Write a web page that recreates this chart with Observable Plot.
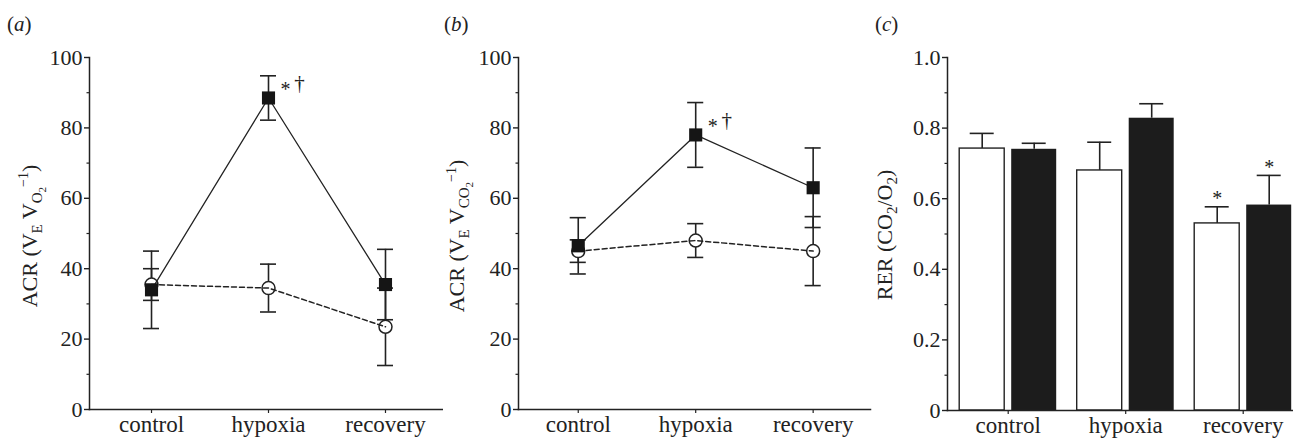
<!DOCTYPE html>
<html>
<head>
<meta charset="utf-8">
<script src="https://cdn.jsdelivr.net/npm/d3@7"></script>
<script src="https://cdn.jsdelivr.net/npm/@observablehq/plot@0.6"></script>
<style>
  html, body { margin: 0; padding: 0; background: white; }
  #row { display: flex; width: 1293px; height: 441px; overflow: hidden; }
  #row svg { display: block; flex: none; }
</style>
</head>
<body>
<div id="row"></div>
<script>
// ---------- data ----------
const categories = ["control", "hypoxia", "recovery"];

// (a) ACR (VE VO2^-1)
const acrO2Filled   = [34, 88.5, 35.5];
const acrO2FilledSE = [11, 6.3, 10];
const acrO2Open     = [35.5, 34.5, 23.5];
const acrO2OpenSE   = [4.5, 6.8, 11];
const acrO2Star     = ["", "*", ""];
const acrO2Dagger   = ["", "†", ""];

// (b) ACR (VE VCO2^-1)
const acrCO2Filled   = [46.5, 78, 63];
const acrCO2FilledSE = [8, 9.2, 11.3];
const acrCO2Open     = [45, 48, 45];
const acrCO2OpenSE   = [3.2, 4.8, 9.8];
const acrCO2Star     = ["", "*", ""];
const acrCO2Dagger   = ["", "†", ""];

// (c) RER (CO2/O2)
const rerOpen     = [0.742, 0.68, 0.53];
const rerOpenSE   = [0.043, 0.08, 0.047];
const rerFilled   = [0.74, 0.828, 0.582];
const rerFilledSE = [0.017, 0.041, 0.084];
const rerOpenStar   = ["", "", "*"];
const rerFilledStar = ["", "", "*"];

// tick values
const acrTicks = [0, 20, 40, 60, 80, 100];
const acrMinor = [10, 30, 50, 70, 90];
const rerTicks = [0, 0.2, 0.4, 0.6, 0.8, 1.0];
const rerMinor = [0.1, 0.3, 0.5, 0.7, 0.9];

// ---------- helpers ----------
const INK = "#222";
const FONT = "'Liberation Serif','Times New Roman',serif";
const YFS = 22, XFS = 23;
const rows = (vals, errs, star, dag) => categories.map((c, i) => ({
  cat: c, v: vals[i], lo: vals[i] - errs[i], hi: vals[i] + errs[i],
  star: star ? star[i] : "", dag: dag ? dag[i] : ""
}));

function addTitle(svg, x, y, parts) {
  const t = d3.select(svg).append("text")
    .attr("transform", `translate(${x},${y}) rotate(-90)`)
    .attr("text-anchor", "middle")
    .attr("fill", INK)
    .attr("font-family", FONT)
    .style("white-space", "pre");
  let prev = 0;
  for (const [txt, shift, size] of parts) {
    t.append("tspan").attr("dy", shift - prev).attr("font-size", size).text(txt);
    prev = shift;
  }
}
function addPanelLabel(svg, x, y, letter) {
  const t = d3.select(svg).append("text")
    .attr("x", x).attr("y", y).attr("fill", INK)
    .attr("text-anchor", "start")
    .attr("font-family", FONT).attr("font-size", 21);
  t.append("tspan").text("(");
  t.append("tspan").attr("font-style", "italic").text(letter);
  t.append("tspan").text(")");
}

const baseStyle = {fontFamily: FONT, fontSize: "22px", color: INK, background: "white"};

function linePanel({width, marginLeft, marginRight, xRange, filled, open}) {
  return Plot.plot({
    width, height: 441,
    marginLeft, marginRight, marginTop: 57, marginBottom: 32,
    style: baseStyle,
    x: {type: "band", domain: categories, range: xRange, paddingInner: 0.863, paddingOuter: 0, align: 0.5, round: false, label: null},
    y: {domain: [0, 100], label: null},
    marks: [
      Plot.axisY({ticks: acrTicks, tickSize: 5, tickPadding: 2, label: null, strokeWidth: 1.4, fontSize: YFS}),
      Plot.axisY({ticks: acrMinor, tickSize: 2.5, tickFormat: () => "", label: null, strokeWidth: 1.2}),
      Plot.axisX({tickSize: 4, tickPadding: 2, label: null, strokeWidth: 1.2, fontSize: XFS}),
      Plot.frame({anchor: "left", stroke: INK, strokeWidth: 1.5}),
      Plot.frame({anchor: "bottom", stroke: INK, strokeWidth: 1.5}),
      // error bars
      Plot.ruleX(open, {x: "cat", y1: "lo", y2: "hi", stroke: INK, strokeWidth: 1.6}),
      Plot.tickY(open, {x: "cat", y: "lo", stroke: INK, strokeWidth: 1.6}),
      Plot.tickY(open, {x: "cat", y: "hi", stroke: INK, strokeWidth: 1.6}),
      Plot.ruleX(filled, {x: "cat", y1: "lo", y2: "hi", stroke: INK, strokeWidth: 1.6}),
      Plot.tickY(filled, {x: "cat", y: "lo", stroke: INK, strokeWidth: 1.6}),
      Plot.tickY(filled, {x: "cat", y: "hi", stroke: INK, strokeWidth: 1.6}),
      // open series
      Plot.dot(open, {x: "cat", y: "v", r: 6.5, fill: "white", stroke: INK, strokeWidth: 1.5}),
      Plot.line(open, {x: "cat", y: "v", stroke: INK, strokeWidth: 1.5, strokeDasharray: "5,3"}),
      // filled series
      Plot.line(filled, {x: "cat", y: "v", stroke: INK, strokeWidth: 1.3}),
      Plot.dot(filled, {x: "cat", y: "v", symbol: "square", r: 7.4, fill: "#151515", stroke: null}),
      // significance
      Plot.text(filled, {x: "cat", y: "v", text: "star", dx: 17, dy: -8, fontSize: 20, textAnchor: "middle", fill: INK}),
      Plot.text(filled, {x: "cat", y: "v", text: "dag", dx: 31, dy: -15, fontSize: 21, textAnchor: "middle", fill: INK})
    ]
  });
}

const row = document.getElementById("row");

// (a)
const pa = linePanel({
  width: 443, marginLeft: 89, marginRight: 0, xRange: [143, 393],
  filled: rows(acrO2Filled, acrO2FilledSE, acrO2Star, acrO2Dagger),
  open: rows(acrO2Open, acrO2OpenSE)
});
addTitle(pa, 37, 236, [["ACR (V", 0, 22], ["E", 5, 15], [" V", 0, 22], ["O", 5, 15], ["2", 9, 11], ["\u22121", -9, 14], [")", 0, 22]]);
addPanelLabel(pa, 7, 31, "a");
row.appendChild(pa);

// (b)
const pb = linePanel({
  width: 430, marginLeft: 75, marginRight: 3, xRange: [126.7, 377.7],
  filled: rows(acrCO2Filled, acrCO2FilledSE, acrCO2Star, acrCO2Dagger),
  open: rows(acrCO2Open, acrCO2OpenSE)
});
addTitle(pb, 21, 236, [["ACR (V", 0, 22], ["E", 5, 15], [" V", 0, 22], ["CO", 5, 15], ["2", 9, 11], ["\u22121", -8, 14], [")", 0, 22]]);
addPanelLabel(pb, 1, 31, "b");
row.appendChild(pb);

// (c)
const openR = rows(rerOpen, rerOpenSE, rerOpenStar);
const filledR = rows(rerFilled, rerFilledSE, rerFilledStar);
const pc = Plot.plot({
  width: 420, height: 441,
  marginLeft: 74, marginRight: 0, marginTop: 57, marginBottom: 31,
  style: baseStyle,
  x: {type: "band", domain: categories, range: [86.2, 418.2], paddingInner: 0.1745, paddingOuter: 0, align: 0.5, round: false, label: null},
  y: {domain: [0, 1], label: null},
  marks: [
    Plot.axisY({ticks: rerTicks, tickSize: 5, tickPadding: 2, label: null, strokeWidth: 1.4, fontSize: YFS,
                tickFormat: d => d === 0 ? "0" : d.toFixed(1)}),
    Plot.axisY({ticks: rerMinor, tickSize: 2.5, tickFormat: () => "", label: null, strokeWidth: 1.2}),
    Plot.axisX({tickSize: 4, tickPadding: 2, label: null, strokeWidth: 1.2, fontSize: XFS}),
    Plot.barY(openR, {x: "cat", y: "v", fill: "white", stroke: INK, strokeWidth: 1.4, insetLeft: 0, insetRight: 52}),
    Plot.barY(filledR, {x: "cat", y: "v", fill: "#1c1c1c", insetLeft: 52, insetRight: 0}),
    Plot.ruleX(openR, {x: "cat", y1: "v", y2: "hi", dx: -26, stroke: INK, strokeWidth: 1.6}),
    Plot.tickY(openR, {x: "cat", y: "hi", insetLeft: 10.5, insetRight: 62.5, stroke: INK, strokeWidth: 1.6}),
    Plot.ruleX(filledR, {x: "cat", y1: "v", y2: "hi", dx: 26, stroke: INK, strokeWidth: 1.6}),
    Plot.tickY(filledR, {x: "cat", y: "hi", insetLeft: 62.5, insetRight: 10.5, stroke: INK, strokeWidth: 1.6}),
    Plot.text(openR, {x: "cat", y: "hi", text: "star", dx: -26, dy: -8, fontSize: 20, fill: INK}),
    Plot.text(filledR, {x: "cat", y: "hi", text: "star", dx: 26, dy: -8, fontSize: 20, fill: INK}),
    Plot.frame({anchor: "left", stroke: INK, strokeWidth: 1.5}),
    Plot.frame({anchor: "bottom", stroke: INK, strokeWidth: 1.5})
  ]
});
addTitle(pc, 19, 235, [["RER (CO", 0, 22], ["2", 5, 15], ["/O", 0, 22], ["2", 5, 15], [")", 0, 22]]);
addPanelLabel(pc, 2, 31, "c");
row.appendChild(pc);
</script>
</body>
</html>
